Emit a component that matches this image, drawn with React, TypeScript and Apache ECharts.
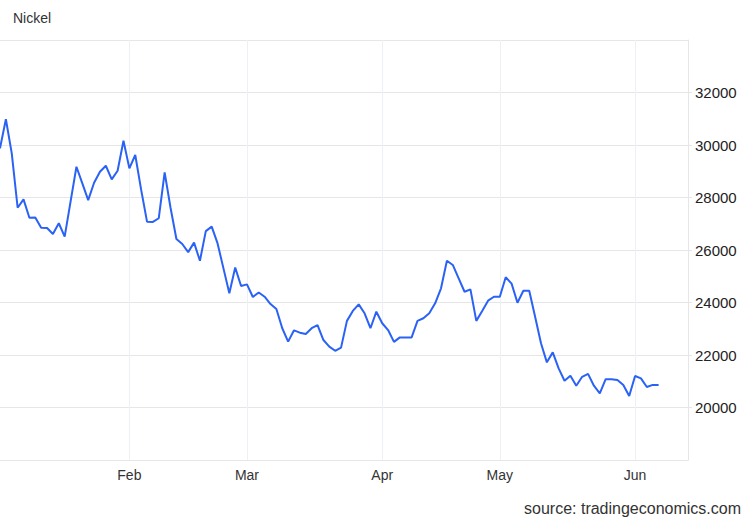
import React, { useEffect, useRef } from "react";
import * as echarts from "echarts";

const chartTitle = "Nickel";
const sourceText = "source: tradingeconomics.com";
// trading-day axis starts on the first weekday of 2023 and runs a bit past the last quote
const startDate = "2023-01-02";
const axisDayCount = 118;
const monthNames = ["Jan", "Feb", "Mar", "Apr", "May", "Jun", "Jul", "Aug", "Sep", "Oct", "Nov", "Dec"];

// daily closes (USD/T), Jan 2 .. Jun 7
const prices = [
  29870, 30980, 29680, 27610, 27930, 27230, 27240, 26850, 26840, 26610,
  27020, 26510, 27840, 29170, 28540, 27900, 28560, 28980, 29210, 28690,
  29020, 30160, 29110, 29620, 28300, 27080, 27070, 27210, 28960, 27610,
  26420, 26230, 25920, 26280, 25590, 26720, 26890, 26250, 25300, 24350,
  25330, 24630, 24690, 24210, 24380, 24220, 23940, 23750, 23020, 22510,
  22940, 22850, 22800, 23020, 23140, 22570, 22320, 22160, 22280, 23300,
  23680, 23930, 23590, 23020, 23650, 23210, 22950, 22500, 22670, 22670,
  22670, 23300, 23400, 23590, 23970, 24540, 25590, 25430, 24920, 24410,
  24500, 23300, 23680, 24070, 24220, 24220, 24960, 24720, 23990, 24450,
  24450, 23460, 22450, 21720, 22100, 21490, 21020, 21210, 20830, 21170,
  21280, 20830, 20540, 21080, 21080, 21050, 20860, 20440, 21200, 21110,
  20780, 20860, 20860,
];

const yMin = 18000;
const yMax = 34000;
const yStep = 2000;

function tradingDays(start: string, count: number): string[] {
  const out: string[] = [];
  const d = new Date(start + "T00:00:00Z");
  while (out.length < count) {
    const wd = d.getUTCDay();
    if (wd !== 0 && wd !== 6) out.push(d.toISOString().slice(0, 10));
    d.setUTCDate(d.getUTCDate() + 1);
  }
  return out;
}

const days = tradingDays(startDate, axisDayCount);
const monthStart = new Set<number>();
days.forEach((d, i) => {
  if (i > 0 && d.slice(5, 7) !== days[i - 1].slice(5, 7)) monthStart.add(i);
});
const isMonthStart = (i: number) => monthStart.has(i);

const FONT = "'Liberation Sans', Arial, sans-serif";

export default function App() {
  const ref = useRef<HTMLDivElement>(null);
  useEffect(() => {
    if (!ref.current) return;
    const chart = echarts.init(ref.current, undefined, { renderer: "svg" });
    chart.setOption({
      animation: false,
      backgroundColor: "#ffffff",
      textStyle: { fontFamily: FONT },
      title: {
        text: chartTitle,
        left: 13,
        top: 11,
        padding: 0,
        textStyle: { fontSize: 14, fontWeight: "normal", color: "#333333", fontFamily: FONT },
      },
      graphic: [
        {
          type: "text",
          right: 9,
          top: 500,
          style: { text: sourceText, fontSize: 16, fill: "#333333", fontFamily: FONT },
        },
      ],
      grid: { left: 0, top: 40, width: 688, height: 420, containLabel: false },
      xAxis: {
        type: "category",
        data: days,
        boundaryGap: false,
        axisLine: { show: true, lineStyle: { color: "#e6e6e6", width: 1 } },
        axisTick: { show: false, interval: (i: number) => isMonthStart(i) },
        axisLabel: {
          interval: (i: number) => isMonthStart(i),
          formatter: (v: string) => monthNames[parseInt(v.slice(5, 7), 10) - 1],
          fontSize: 14,
          color: "#333333",
          margin: 8,
          fontFamily: FONT,
        },
        splitLine: {
          show: true,
          interval: (i: number) => isMonthStart(i),
          lineStyle: { color: "#edf1f6", width: 1 },
        },
      },
      yAxis: {
        type: "value",
        position: "right",
        min: yMin,
        max: yMax,
        interval: yStep,
        axisLine: { show: true, lineStyle: { color: "#e6e6e6", width: 1 } },
        axisTick: { show: true, length: 4, lineStyle: { color: "#e6e6e6" } },
        axisLabel: {
          showMinLabel: false,
          showMaxLabel: false,
          formatter: (v: number) => String(v),
          fontSize: 15,
          color: "#222222",
          margin: 7,
          fontFamily: FONT,
        },
        splitLine: { show: true, lineStyle: { color: "#e6e6e6", width: 1 } },
      },
      series: [
        {
          type: "line",
          data: prices,
          showSymbol: false,
          symbol: "none",
          lineStyle: { color: "#2a62f5", width: 2 },
          itemStyle: { color: "#2a62f5" },
        },
      ],
    });
    return () => chart.dispose();
  }, []);
  return (
    <div
      ref={ref}
      style={{ position: "fixed", left: 0, top: 0, width: 750, height: 520, background: "#fff" }}
    />
  );
}
